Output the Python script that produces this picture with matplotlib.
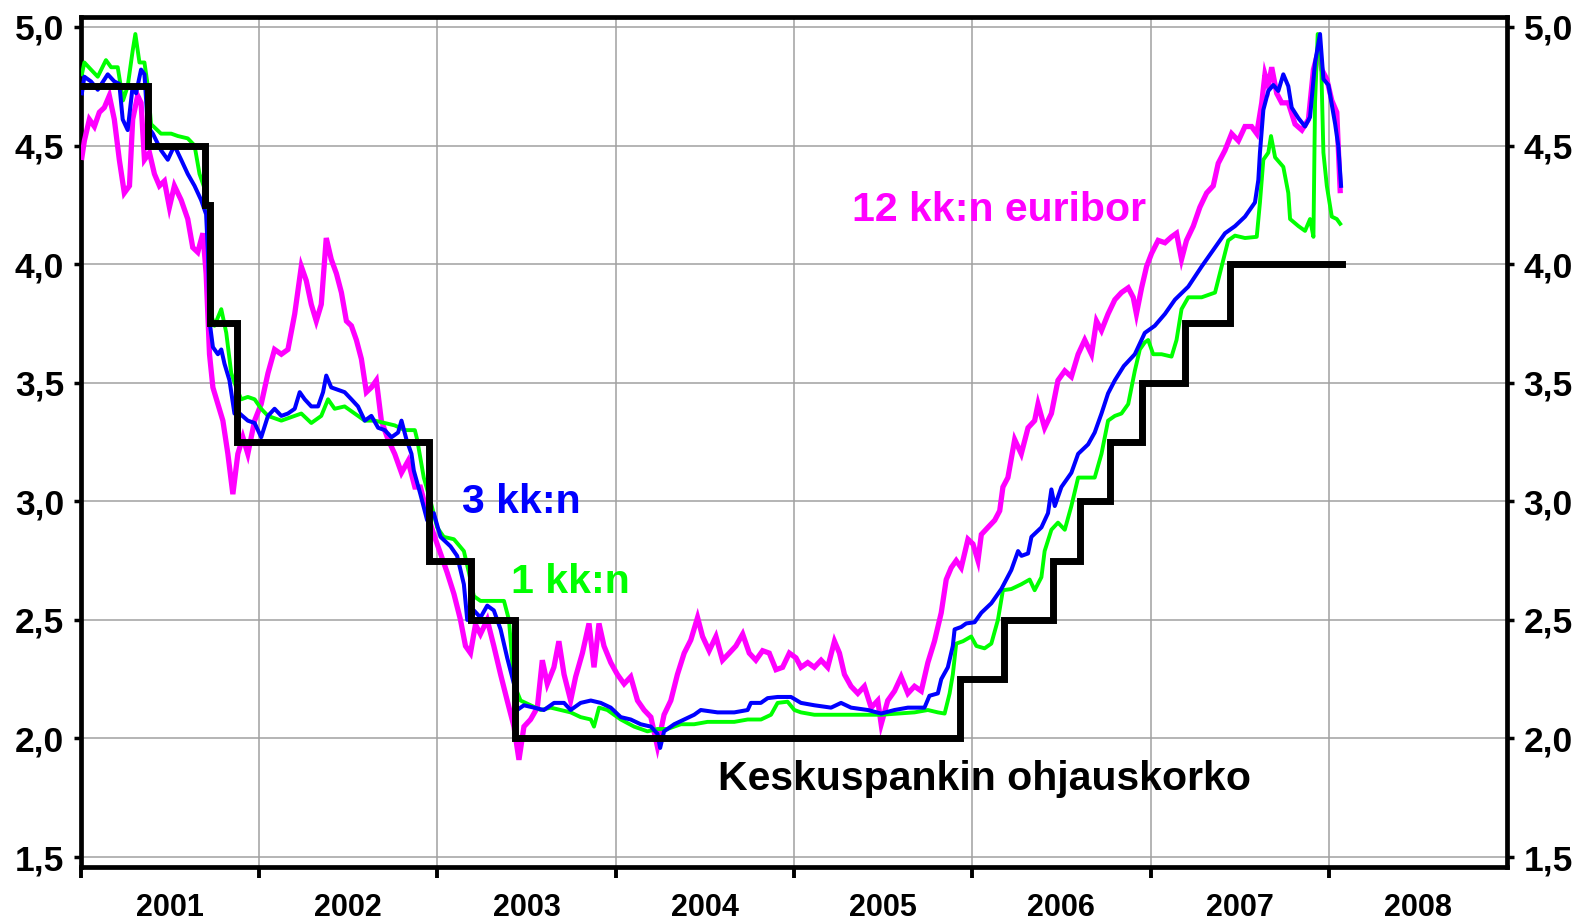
import matplotlib
matplotlib.use("Agg")
import matplotlib.pyplot as plt

# ECB policy rate (decimal years)
ecb_dates = [2001.0, 2001.375, 2001.693, 2001.721, 2001.875, 2002.95, 2003.19, 2003.435,
             2005.929, 2006.18, 2006.453, 2006.603, 2006.772, 2006.95, 2007.193, 2007.446, 2008.073]
ecb_vals = [4.75, 4.50, 4.25, 3.75, 3.25, 2.75, 2.50, 2.00,
            2.25, 2.50, 2.75, 3.00, 3.25, 3.50, 3.75, 4.00, 4.00]

# 1 month euribor
m1_dates = [2001.005, 2001.019, 2001.056, 2001.094, 2001.140, 2001.169, 2001.206, 2001.236, 2001.262, 2001.290,
            2001.305, 2001.328, 2001.356, 2001.375, 2001.393, 2001.449, 2001.506, 2001.543, 2001.599, 2001.637,
            2001.665, 2001.702, 2001.712, 2001.721, 2001.749, 2001.787, 2001.815, 2001.843, 2001.871, 2001.899,
            2001.936, 2001.974, 2002.011, 2002.049, 2002.124, 2002.199, 2002.236, 2002.292, 2002.348, 2002.386,
            2002.423, 2002.479, 2002.536, 2002.592, 2002.648, 2002.704, 2002.760, 2002.816, 2002.873, 2002.886,
            2002.923, 2002.961, 2002.998, 2003.035, 2003.092, 2003.148, 2003.176, 2003.204, 2003.241, 2003.279,
            2003.335, 2003.373, 2003.401, 2003.429, 2003.466, 2003.522, 2003.579, 2003.635, 2003.691, 2003.747,
            2003.803, 2003.860, 2003.878, 2003.906, 2003.953, 2004.028, 2004.103, 2004.178, 2004.234, 2004.290,
            2004.365, 2004.440, 2004.515, 2004.590, 2004.665, 2004.740, 2004.815, 2004.871, 2004.908, 2004.964,
            2005.002, 2005.039, 2005.114, 2005.208, 2005.302, 2005.395, 2005.489, 2005.582, 2005.676, 2005.751,
            2005.807, 2005.845, 2005.873, 2005.891, 2005.910, 2005.948, 2005.994, 2006.023, 2006.069, 2006.107,
            2006.144, 2006.172, 2006.219, 2006.275, 2006.322, 2006.350, 2006.388, 2006.406, 2006.444, 2006.481,
            2006.519, 2006.556, 2006.594, 2006.631, 2006.687, 2006.725, 2006.762, 2006.800, 2006.837, 2006.875,
            2006.912, 2006.940, 2006.968, 2006.987, 2007.015, 2007.062, 2007.118, 2007.146, 2007.174, 2007.212,
            2007.287, 2007.362, 2007.399, 2007.436, 2007.474, 2007.530, 2007.596, 2007.614, 2007.633, 2007.661,
            2007.676, 2007.699, 2007.745, 2007.773, 2007.783, 2007.830, 2007.867, 2007.895, 2007.914, 2007.923,
            2007.938, 2007.957, 2007.970, 2007.989, 2008.017, 2008.045, 2008.064]
m1_vals = [4.80, 4.85, 4.82, 4.79, 4.86, 4.83, 4.83, 4.69, 4.75, 4.90,
           4.97, 4.85, 4.85, 4.75, 4.59, 4.55, 4.55, 4.54, 4.53, 4.50,
           4.38, 4.30, 4.24, 3.81, 3.74, 3.81, 3.71, 3.54, 3.48, 3.43,
           3.44, 3.43, 3.39, 3.36, 3.34, 3.36, 3.37, 3.33, 3.36, 3.43,
           3.39, 3.40, 3.37, 3.34, 3.34, 3.33, 3.32, 3.30, 3.30, 3.26,
           3.10, 3.00, 2.89, 2.85, 2.84, 2.79, 2.70, 2.60, 2.58, 2.58,
           2.58, 2.58, 2.50, 2.23, 2.16, 2.14, 2.12, 2.13, 2.12, 2.11,
           2.09, 2.08, 2.05, 2.13, 2.12, 2.08, 2.05, 2.03, 2.04, 2.04,
           2.06, 2.06, 2.07, 2.07, 2.07, 2.08, 2.08, 2.10, 2.15, 2.155,
           2.12, 2.11, 2.10, 2.10, 2.10, 2.10, 2.10, 2.105, 2.11, 2.12,
           2.11, 2.105, 2.19, 2.27, 2.40, 2.41, 2.43, 2.39, 2.38, 2.40,
           2.50, 2.625, 2.63, 2.65, 2.67, 2.625, 2.68, 2.79, 2.88, 2.91,
           2.88, 2.98, 3.10, 3.10, 3.10, 3.20, 3.34, 3.36, 3.37, 3.41,
           3.55, 3.64, 3.67, 3.68, 3.62, 3.62, 3.61, 3.68, 3.81, 3.86,
           3.86, 3.88, 3.99, 4.10, 4.12, 4.11, 4.115, 4.26, 4.44, 4.47,
           4.54, 4.45, 4.41, 4.30, 4.19, 4.16, 4.14, 4.19, 4.115, 4.68,
           4.97, 4.86, 4.47, 4.33, 4.20, 4.19, 4.17]

# 3 month euribor
m3_dates = [2001.005, 2001.019, 2001.056, 2001.094, 2001.150, 2001.187, 2001.215, 2001.234, 2001.262, 2001.290,
            2001.309, 2001.337, 2001.356, 2001.375, 2001.403, 2001.449, 2001.487, 2001.524, 2001.562, 2001.599,
            2001.637, 2001.674, 2001.702, 2001.712, 2001.721, 2001.740, 2001.768, 2001.787, 2001.805, 2001.833,
            2001.861, 2001.890, 2001.936, 2001.974, 2002.011, 2002.049, 2002.086, 2002.124, 2002.161, 2002.199,
            2002.227, 2002.255, 2002.292, 2002.330, 2002.358, 2002.376, 2002.404, 2002.442, 2002.479, 2002.517,
            2002.554, 2002.592, 2002.629, 2002.667, 2002.704, 2002.742, 2002.779, 2002.798, 2002.826, 2002.854,
            2002.867, 2002.904, 2002.942, 2002.979, 2003.017, 2003.073, 2003.110, 2003.148, 2003.167, 2003.185,
            2003.204, 2003.241, 2003.279, 2003.316, 2003.354, 2003.391, 2003.429, 2003.447, 2003.485, 2003.541,
            2003.597, 2003.654, 2003.710, 2003.747, 2003.803, 2003.860, 2003.916, 2003.972, 2004.028, 2004.084,
            2004.140, 2004.197, 2004.234, 2004.249, 2004.271, 2004.328, 2004.384, 2004.440, 2004.477, 2004.571,
            2004.665, 2004.740, 2004.758, 2004.814, 2004.852, 2004.908, 2004.983, 2005.039, 2005.114, 2005.208,
            2005.264, 2005.320, 2005.414, 2005.489, 2005.564, 2005.639, 2005.732, 2005.760, 2005.807, 2005.826,
            2005.863, 2005.891, 2005.901, 2005.938, 2005.966, 2006.013, 2006.051, 2006.107, 2006.163, 2006.219,
            2006.257, 2006.276, 2006.313, 2006.332, 2006.388, 2006.425, 2006.444, 2006.463, 2006.500, 2006.556,
            2006.594, 2006.650, 2006.687, 2006.725, 2006.762, 2006.800, 2006.850, 2006.912, 2006.968, 2007.024,
            2007.081, 2007.137, 2007.212, 2007.287, 2007.362, 2007.418, 2007.474, 2007.530, 2007.586, 2007.605,
            2007.614, 2007.633, 2007.661, 2007.689, 2007.717, 2007.745, 2007.773, 2007.792, 2007.830, 2007.867,
            2007.895, 2007.923, 2007.951, 2007.970, 2007.998, 2008.036, 2008.054, 2008.069]
m3_vals = [4.72, 4.79, 4.77, 4.735, 4.80, 4.77, 4.76, 4.61, 4.565, 4.75,
           4.72, 4.82, 4.80, 4.58, 4.55, 4.48, 4.44, 4.50, 4.44, 4.38,
           4.33, 4.27, 4.21, 4.05, 3.76, 3.65, 3.62, 3.64, 3.58, 3.51,
           3.37, 3.37, 3.34, 3.33, 3.27, 3.36, 3.39, 3.36, 3.37, 3.39,
           3.46, 3.43, 3.40, 3.40, 3.46, 3.53, 3.48, 3.47, 3.46, 3.43,
           3.40, 3.34, 3.36, 3.31, 3.30, 3.27, 3.29, 3.34, 3.26, 3.20,
           3.13, 3.03, 2.92, 2.95, 2.85, 2.81, 2.77, 2.65, 2.50, 2.50,
           2.54, 2.51, 2.56, 2.54, 2.46, 2.34, 2.23, 2.12, 2.14, 2.13,
           2.12, 2.15, 2.15, 2.12, 2.15, 2.16, 2.15, 2.13, 2.09, 2.08,
           2.06, 2.05, 2.02, 1.96, 2.03, 2.06, 2.08, 2.10, 2.12, 2.11,
           2.11, 2.12, 2.15, 2.15, 2.17, 2.175, 2.175, 2.15, 2.14, 2.13,
           2.15, 2.13, 2.12, 2.105, 2.12, 2.13, 2.13, 2.18, 2.19, 2.25,
           2.30, 2.39, 2.46, 2.47, 2.485, 2.49, 2.53, 2.57, 2.63, 2.71,
           2.79, 2.77, 2.78, 2.85, 2.89, 2.95, 3.05, 2.98, 3.06, 3.12,
           3.20, 3.24, 3.29, 3.37, 3.455, 3.51, 3.57, 3.62, 3.71, 3.74,
           3.79, 3.85, 3.905, 3.99, 4.07, 4.13, 4.16, 4.20, 4.26, 4.355,
           4.47, 4.65, 4.73, 4.755, 4.73, 4.80, 4.75, 4.66, 4.615, 4.58,
           4.62, 4.85, 4.97, 4.78, 4.755, 4.59, 4.495, 4.33]

# 12 month euribor
m12_dates = [2001.005, 2001.019, 2001.047, 2001.075, 2001.103, 2001.131, 2001.159, 2001.187, 2001.215, 2001.243,
             2001.272, 2001.290, 2001.318, 2001.337, 2001.356, 2001.384, 2001.412, 2001.440, 2001.468, 2001.496,
             2001.524, 2001.562, 2001.599, 2001.627, 2001.655, 2001.684, 2001.702, 2001.721, 2001.740, 2001.768,
             2001.796, 2001.824, 2001.852, 2001.880, 2001.908, 2001.936, 2001.974, 2002.011, 2002.049, 2002.086,
             2002.124, 2002.161, 2002.199, 2002.236, 2002.264, 2002.292, 2002.320, 2002.348, 2002.376, 2002.404,
             2002.433, 2002.461, 2002.489, 2002.517, 2002.545, 2002.573, 2002.601, 2002.629, 2002.657, 2002.685,
             2002.723, 2002.760, 2002.798, 2002.835, 2002.873, 2002.904, 2002.942, 2002.979, 2003.017, 2003.054,
             2003.092, 2003.129, 2003.157, 2003.185, 2003.213, 2003.241, 2003.279, 2003.316, 2003.354, 2003.391,
             2003.429, 2003.457, 2003.485, 2003.522, 2003.560, 2003.588, 2003.616, 2003.653, 2003.681, 2003.710,
             2003.747, 2003.775, 2003.813, 2003.850, 2003.878, 2003.906, 2003.934, 2003.972, 2004.009, 2004.047,
             2004.084, 2004.122, 2004.159, 2004.197, 2004.234, 2004.271, 2004.309, 2004.346, 2004.384, 2004.421,
             2004.459, 2004.487, 2004.524, 2004.562, 2004.599, 2004.637, 2004.674, 2004.712, 2004.749, 2004.786,
             2004.824, 2004.861, 2004.899, 2004.936, 2004.974, 2005.011, 2005.039, 2005.077, 2005.114, 2005.152,
             2005.189, 2005.227, 2005.255, 2005.283, 2005.320, 2005.358, 2005.395, 2005.433, 2005.470, 2005.489,
             2005.526, 2005.564, 2005.601, 2005.639, 2005.676, 2005.714, 2005.751, 2005.788, 2005.826, 2005.854,
             2005.882, 2005.910, 2005.938, 2005.976, 2006.004, 2006.032, 2006.051, 2006.088, 2006.126, 2006.154,
             2006.172, 2006.200, 2006.238, 2006.275, 2006.313, 2006.350, 2006.369, 2006.406, 2006.444, 2006.481,
             2006.519, 2006.556, 2006.594, 2006.631, 2006.669, 2006.697, 2006.725, 2006.762, 2006.800, 2006.837,
             2006.875, 2006.903, 2006.921, 2006.950, 2006.978, 2007.006, 2007.043, 2007.081, 2007.118, 2007.146,
             2007.174, 2007.202, 2007.240, 2007.277, 2007.315, 2007.352, 2007.380, 2007.418, 2007.455, 2007.493,
             2007.530, 2007.567, 2007.596, 2007.624, 2007.642, 2007.661, 2007.680, 2007.708, 2007.736, 2007.773,
             2007.811, 2007.849, 2007.886, 2007.914, 2007.942, 2007.961, 2007.989, 2008.017, 2008.045, 2008.064]
m12_vals = [4.45, 4.52, 4.61, 4.58, 4.64, 4.66, 4.71, 4.61, 4.44, 4.30,
            4.33, 4.61, 4.71, 4.68, 4.44, 4.47, 4.38, 4.33, 4.35, 4.24,
            4.33, 4.27, 4.19, 4.07, 4.05, 4.13, 3.96, 3.62, 3.48, 3.41,
            3.34, 3.20, 3.03, 3.20, 3.27, 3.20, 3.34, 3.41, 3.54, 3.64,
            3.62, 3.64, 3.79, 3.99, 3.93, 3.83, 3.76, 3.83, 4.11, 4.02,
            3.96, 3.88, 3.76, 3.74, 3.68, 3.60, 3.46, 3.48, 3.51, 3.34,
            3.26, 3.20, 3.12, 3.17, 3.06, 3.06, 2.95, 2.86, 2.78, 2.70,
            2.61, 2.50, 2.39, 2.36, 2.48, 2.44, 2.50, 2.39, 2.27, 2.16,
            2.05, 1.91, 2.05, 2.08, 2.13, 2.33, 2.23, 2.30, 2.41, 2.27,
            2.16, 2.26, 2.36, 2.485, 2.30, 2.485, 2.39, 2.32, 2.27, 2.23,
            2.26, 2.16, 2.12, 2.09, 1.965, 2.10, 2.16, 2.27, 2.36, 2.415,
            2.51, 2.43, 2.37, 2.43, 2.33, 2.36, 2.39, 2.44, 2.36, 2.33,
            2.37, 2.36, 2.29, 2.30, 2.36, 2.34, 2.30, 2.32, 2.30, 2.33,
            2.30, 2.41, 2.36, 2.27, 2.22, 2.19, 2.22, 2.13, 2.16, 2.06,
            2.16, 2.20, 2.26, 2.19, 2.22, 2.20, 2.32, 2.41, 2.53, 2.67,
            2.72, 2.75, 2.72, 2.84, 2.82, 2.75, 2.86, 2.89, 2.92, 2.96,
            3.06, 3.10, 3.26, 3.20, 3.31, 3.34, 3.41, 3.31, 3.37, 3.51,
            3.55, 3.525, 3.62, 3.68, 3.62, 3.76, 3.72, 3.79, 3.85, 3.88,
            3.90, 3.86, 3.79, 3.90, 3.99, 4.045, 4.10, 4.09, 4.115, 4.13,
            4.02, 4.10, 4.16, 4.24, 4.30, 4.33, 4.425, 4.48, 4.55, 4.52,
            4.58, 4.58, 4.55, 4.68, 4.80, 4.75, 4.83, 4.72, 4.68, 4.68,
            4.59, 4.565, 4.61, 4.82, 4.90, 4.82, 4.78, 4.69, 4.64, 4.31]

y_ticks = [1.5, 2.0, 2.5, 3.0, 3.5, 4.0, 4.5, 5.0]
y_labels = ["1,5", "2,0", "2,5", "3,0", "3,5", "4,0", "4,5", "5,0"]
year_edges = [2001, 2002, 2003, 2004, 2005, 2006, 2007, 2008]
year_mids = [2001.5, 2002.5, 2003.5, 2004.5, 2005.5, 2006.5, 2007.5, 2008.5]
year_labels = ["2001", "2002", "2003", "2004", "2005", "2006", "2007", "2008"]

plt.rcParams['font.family'] = ['Liberation Sans', 'DejaVu Sans']
plt.rcParams['font.weight'] = 'bold'

fig = plt.figure(figsize=(15.88, 9.21), dpi=100)
ax = fig.add_axes([0.051, 0.0586, 0.898, 0.923])

ax.plot(m12_dates, m12_vals, color='#ff00ff', lw=3.8, solid_joinstyle='miter', zorder=3)
ax.plot(m1_dates, m1_vals, color='#00ff00', lw=2.8, zorder=4)
ax.plot(m3_dates, m3_vals, color='#0000ff', lw=2.9, zorder=5)
ax.plot(ecb_dates, ecb_vals, color='black', lw=5, drawstyle='steps-post',
        solid_joinstyle='miter', zorder=6)

ax.set_xlim(2001, 2009)
ax.set_ylim(1.458, 5.042)

ax.set_yticks(y_ticks)
ax.set_yticklabels(y_labels, fontsize=25.5, fontweight='bold')
ax.tick_params(axis='y', length=5, width=2.5, pad=7, right=True, labelright=True)

ax.set_xticks(year_edges)
ax.set_xticklabels([])
ax.set_xticks(year_mids, minor=True)
ax.set_xticklabels(year_labels, minor=True, fontsize=22, fontweight='bold')
ax.tick_params(axis='x', which='major', length=8, width=2.8, direction='out')
ax.tick_params(axis='x', which='minor', length=0, pad=19)

ax.grid(True, which='major', color='#a0a0a0', linewidth=1.1, zorder=0)
ax.set_axisbelow(True)
for s in ax.spines.values():
    s.set_linewidth(3.4)

ax.text(2005.326, 4.18, "12 kk:n euribor", color='#ff00ff', fontsize=29.5, fontweight='bold', va='baseline')
ax.text(2003.14, 2.95, "3 kk:n", color='#0000ff', fontsize=29.5, fontweight='bold', va='baseline')
ax.text(2003.41, 2.613, "1 kk:n", color='#00ff00', fontsize=29.5, fontweight='bold', va='baseline')
ax.text(2004.573, 1.782, "Keskuspankin ohjauskorko", color='black', fontsize=29.5, fontweight='bold', va='baseline')

fig.savefig('out.png', dpi=100)
